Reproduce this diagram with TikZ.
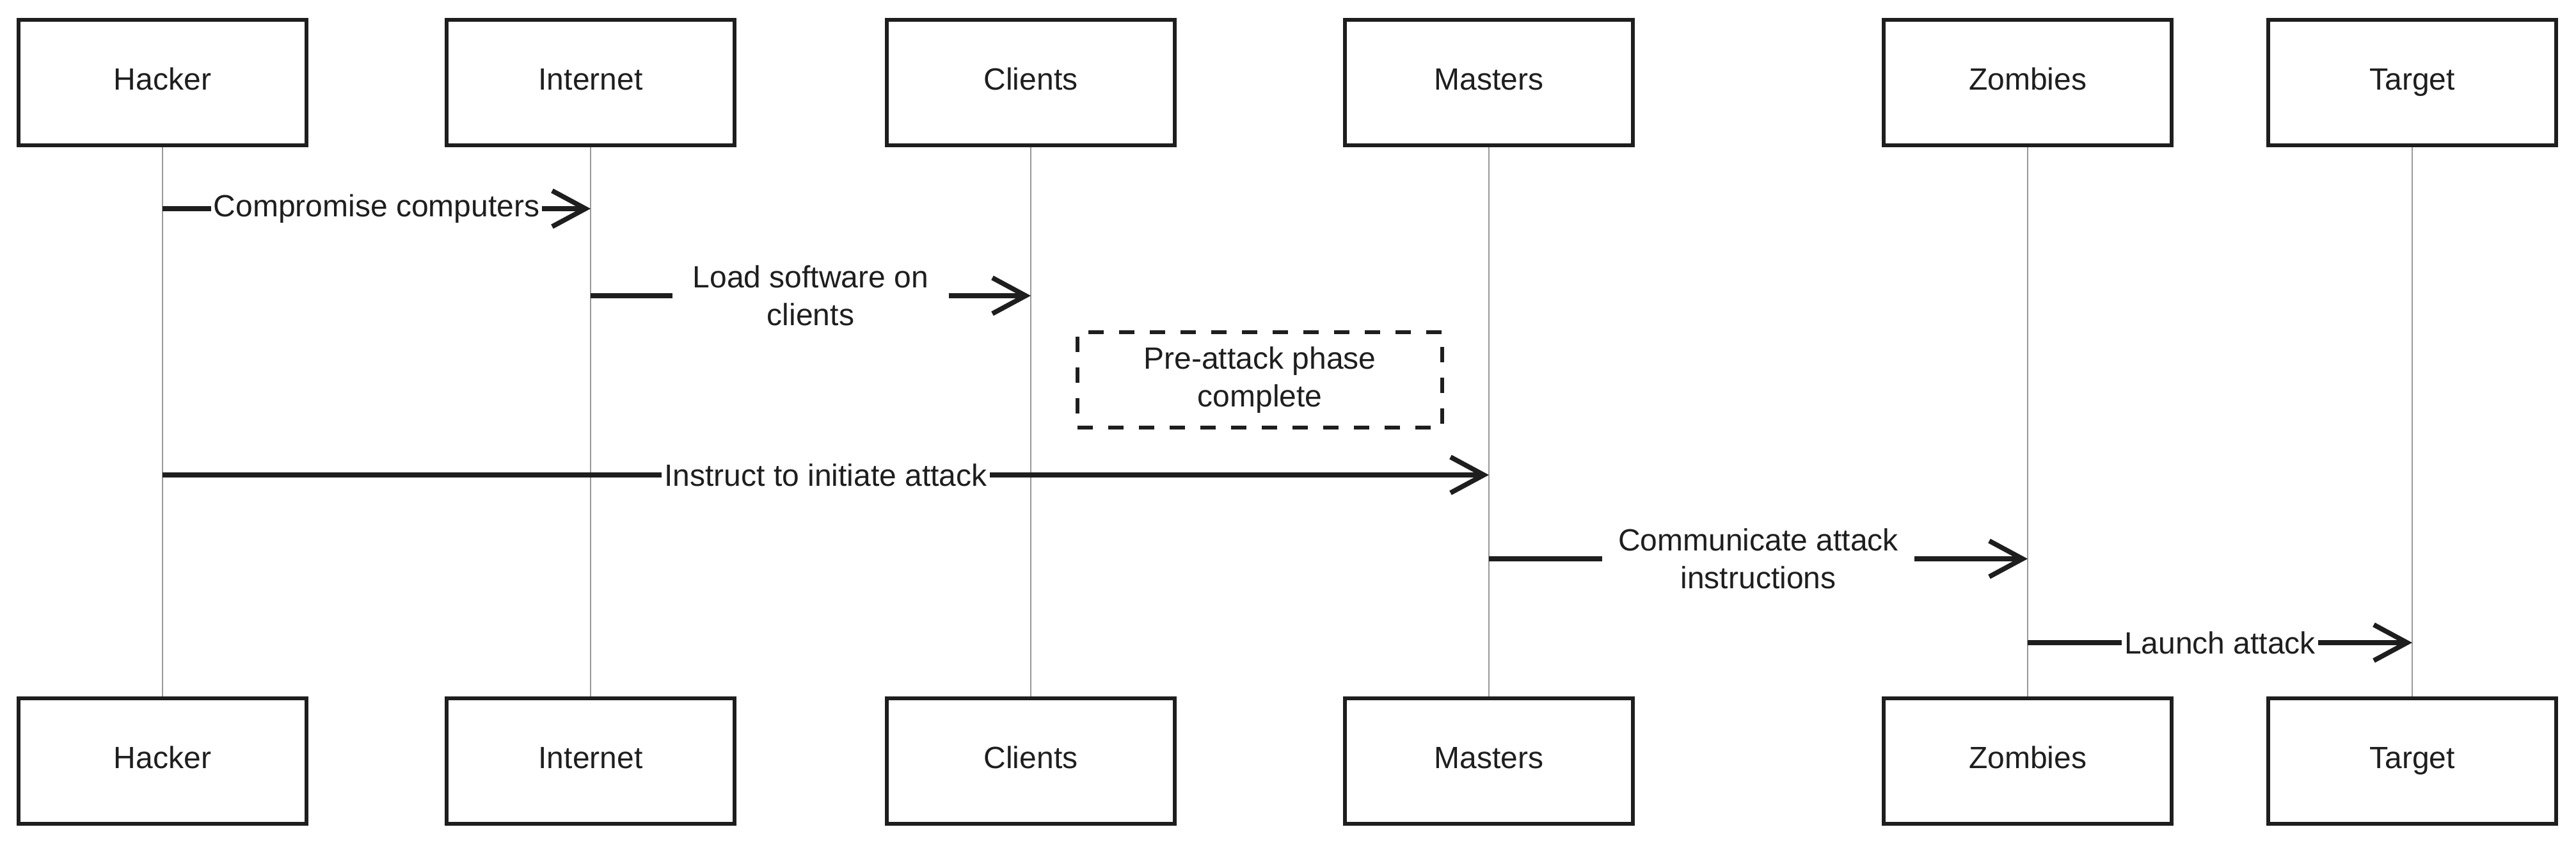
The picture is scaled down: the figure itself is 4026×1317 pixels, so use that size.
\documentclass[tikz,border=0pt]{standalone}
\usepackage{fontspec}
\setmainfont{Liberation Sans}
\usetikzlibrary{arrows.meta}
\definecolor{ink}{HTML}{1E1E1E}
\definecolor{lifegray}{HTML}{999999}
\begin{document}
\begin{tikzpicture}[x=0.25pt,y=-0.25pt,
  actor/.style={draw=ink, line width=1.5pt, fill=white, minimum width=112.5pt, minimum height=49pt, inner sep=0pt, text=ink, text height=8.6pt, text depth=2.5pt, font=\fontsize{12}{14.5}\selectfont},
  life/.style={draw=lifegray, line width=0.55pt},
  msg/.style={draw=ink, line width=1.9pt, -{Straight Barb[length=13pt,width=14pt]}},
  lbl/.style={fill=white, inner xsep=1pt, inner ysep=1pt, align=center, text=ink, font=\fontsize{12}{14.8}\selectfont},
  notebox/.style={draw=ink, line width=1.5pt, dash pattern=on 6pt off 6pt, minimum width=142.5pt, minimum height=37.25pt, align=center, text=ink, font=\fontsize{12}{14.8}\selectfont}
]
\useasboundingbox (0,0) rectangle (4026,1317);
% top actors
\node[actor] (ht) at (254,128.5) {Hacker};
\node[actor] (it) at (923,128.5) {Internet};
\node[actor] (ct) at (1611,128.5) {Clients};
\node[actor] (mt) at (2327,128.5) {Masters};
\node[actor] (zt) at (3169,128.5) {Zombies};
\node[actor] (tt) at (3770,128.5) {Target};
% bottom actors
\node[actor] (hb) at (254,1188.5) {Hacker};
\node[actor] (ib) at (923,1188.5) {Internet};
\node[actor] (cb) at (1611,1188.5) {Clients};
\node[actor] (mb) at (2327,1188.5) {Masters};
\node[actor] (zb) at (3169,1188.5) {Zombies};
\node[actor] (tb) at (3770,1188.5) {Target};
% lifelines
\draw[life] (ht) -- (hb);
\draw[life] (it) -- (ib);
\draw[life] (ct) -- (cb);
\draw[life] (mt) -- (mb);
\draw[life] (zt) -- (zb);
\draw[life] (tt) -- (tb);
% note
\node[notebox] (note) at (1969,593.5) {Pre-attack phase\\complete};
% messages
\draw[msg] (ht.south |- 0,326) -- node[lbl] (l1) {Compromise computers} (it.south |- 0,326);
\draw[msg] (it.south |- 0,462) -- node[lbl, minimum width=108pt] (l2) {Load software on\\clients} (ct.south |- 0,462);
\draw[msg] (ht.south |- 0,742) -- node[lbl] (l3) {Instruct to initiate attack} (mt.south |- 0,742);
\draw[msg] (mt.south |- 0,873) -- node[lbl, minimum width=122pt] (l4) {Communicate attack\\instructions} (zt.south |- 0,873);
\draw[msg] (zt.south |- 0,1004) -- node[lbl] (l5) {Launch attack} (tt.south |- 0,1004);
\end{tikzpicture}
\end{document}
